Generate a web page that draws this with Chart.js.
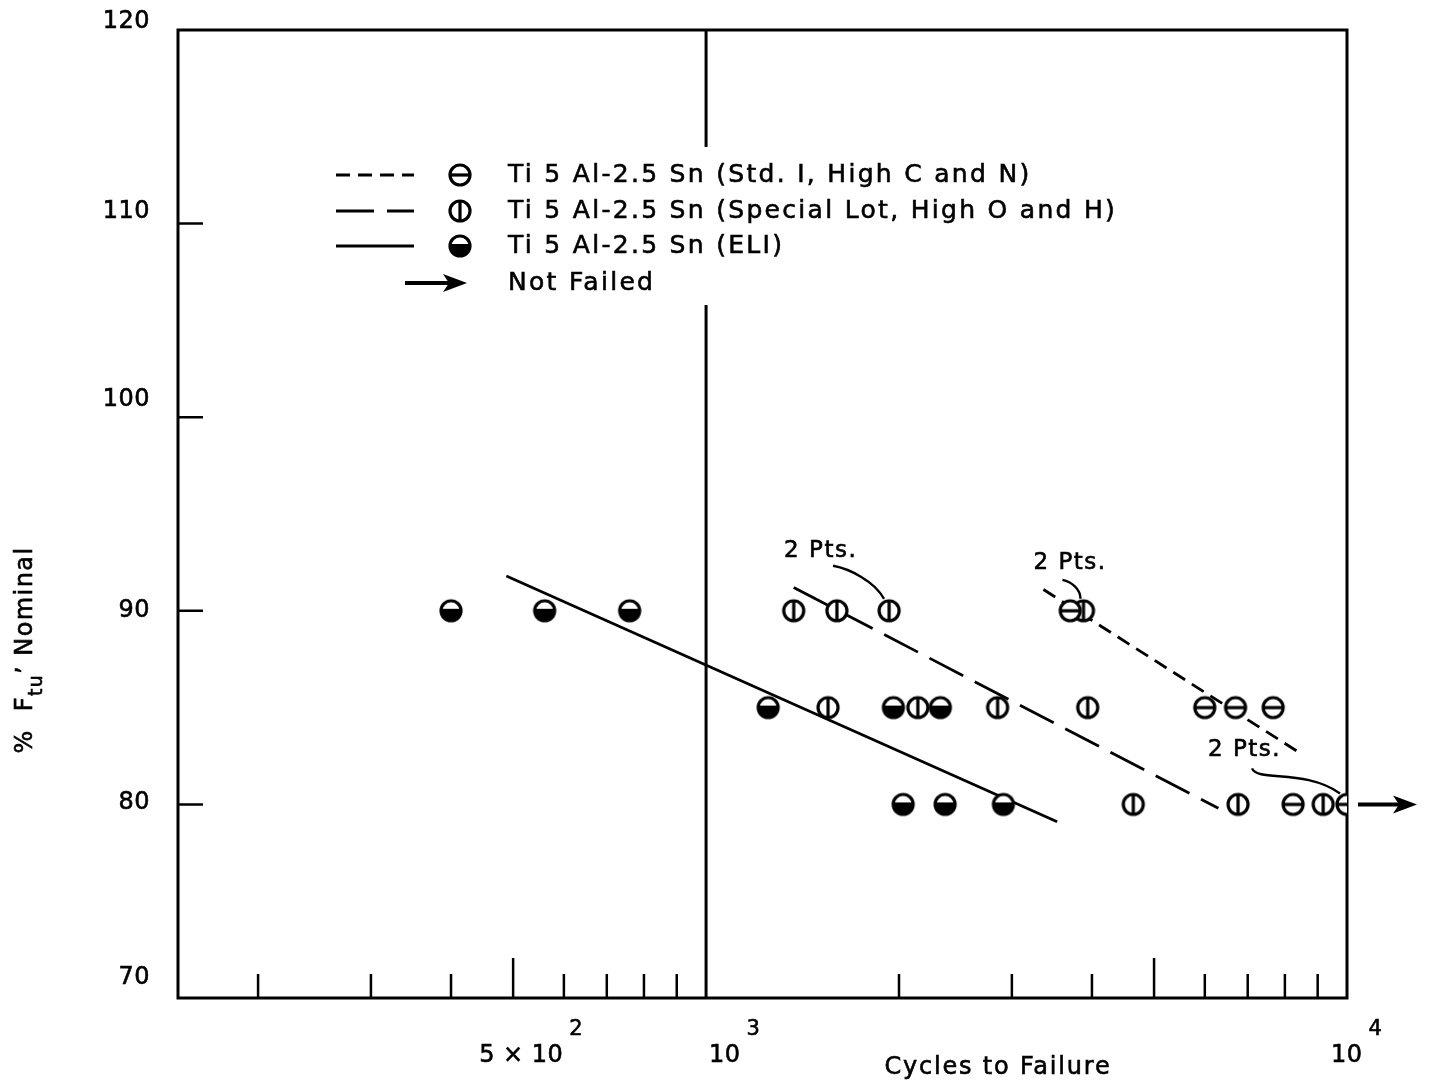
<!DOCTYPE html>
<html>
<head>
<meta charset="utf-8">
<title>Ti 5Al-2.5Sn low-cycle fatigue</title>
<script src="https://cdn.jsdelivr.net/npm/chart.js@4.4.1/dist/chart.umd.min.js"></script>
<style>
  html, body { margin: 0; padding: 0; background: #fff; }
  canvas { display: block; }
</style>
</head>
<body>
<canvas id="fatigueChart" width="1432" height="1088"></canvas>
<script>
// Test points: cycles to failure and % Ftu (nominal) for each lot
const stdCycles = [3700, 6000, 6700, 7670, 8240, 10000];
const stdStress = [90, 85, 85, 85, 80, 80];

const specialCycles = [1370, 1600, 1930, 3880, 1550, 2140, 2850, 3940, 4640, 6760, 9180];
const specialStress = [90, 90, 90, 90, 85, 85, 85, 85, 80, 80, 80];

const eliCycles = [400, 560, 760, 1250, 1960, 2320, 2030, 2360, 2910];
const eliStress = [90, 90, 90, 85, 85, 85, 80, 80, 80];

// Faired curves (end points)
const stdFitCycles = [3360, 8450];
const stdFitStress = [91.1, 82.65];
const specialFitCycles = [1370, 6300];
const specialFitStress = [91.2, 79.8];
const eliFitCycles = [488, 3530];
const eliFitStress = [91.8, 79.1];

// Specimens that did not fail
const runoutCycles = [10000];
const runoutStress = [80];

const seriesNames = [
  'Ti 5 Al-2.5 Sn (Std. I, High C and N)',
  'Ti 5 Al-2.5 Sn (Special Lot, High O and H)',
  'Ti 5 Al-2.5 Sn (ELI)',
  'Not Failed'
];

// Axis ticks and labels
const yTicks = [70, 80, 90, 100, 110, 120];
const xMinorTicks = [200, 300, 400, 600, 700, 800, 900, 2000, 3000, 4000, 6000, 7000, 8000, 9000];
const xMajorTicks = [500, 5000];
const xLabelValues = [500, 1000, 10000];
const xLabelBase = ['5 \u00d7 10', '10', '10'];
const xLabelExp = ['2', '3', '4'];

// "2 Pts." notes and the point each one marks
const noteCycles = [1930, 3880, 10000];
const noteStress = [90, 90, 80];
const noteText = ['2 Pts.', '2 Pts.', '2 Pts.'];

// ---- layout / style ----
const FONT = '"DejaVu Sans", sans-serif';
const INK = '#000';
const SHORT_DASH = [14, 8];
const LONG_DASH = [38, 13];
const MARK_R = 10;

// pixel offsets from the marked point: text left/middle, then leader bezier
const noteLayout = [
  { text: [-105, -60], path: [[-56, -45], [-40, -42], [-15, -30], [-5, -12]] },
  { text: [-50, -48], path: [[-21, -31], [-12, -29], [-3, -22], [-3, -12]] },
  { text: [-139, -54], path: [[-95, -36], [-89, -22], [-42, -36], [-7, -11]] }
];
const xLabelShift = [-34, 3, -16];
const yLabelShift = [-20, -2, 0, -17, -12, -8];
const legendRows = [175, 211, 246, 283];

function makeMarker(kind) {
  const r = MARK_R;
  const s = r * 2 + 6;
  const c = document.createElement('canvas');
  c.width = c.height = s;
  const g = c.getContext('2d');
  const m = s / 2;
  g.lineWidth = 3.2;
  g.strokeStyle = INK;
  g.fillStyle = '#fff';
  g.beginPath(); g.arc(m, m, r, 0, Math.PI * 2); g.fill();
  if (kind === 'half') {
    g.fillStyle = INK;
    g.beginPath(); g.arc(m, m - 1, r, -0.1, Math.PI + 0.1); g.closePath(); g.fill();
  }
  g.beginPath(); g.arc(m, m, r, 0, Math.PI * 2); g.stroke();
  if (kind === 'h') { g.beginPath(); g.moveTo(m - r, m); g.lineTo(m + r, m); g.stroke(); }
  if (kind === 'v') { g.beginPath(); g.moveTo(m, m - r); g.lineTo(m, m + r); g.stroke(); }
  return c;
}
const markers = { h: makeMarker('h'), v: makeMarker('v'), half: makeMarker('half') };

const pts = (xs, ys) => xs.map((x, i) => ({ x: x, y: ys[i] }));

// filled text with a hairline stroke so it reads a little heavier
function ink(ctx, t, x, y) {
  ctx.fillText(t, x, y);
  ctx.strokeText(t, x, y);
}

function arrow(ctx, x0, x1, y) {
  ctx.save();
  ctx.strokeStyle = INK; ctx.fillStyle = INK; ctx.lineWidth = 4;
  ctx.beginPath(); ctx.moveTo(x0, y); ctx.lineTo(x1 - 16, y); ctx.stroke();
  ctx.beginPath();
  ctx.moveTo(x1, y); ctx.lineTo(x1 - 24, y - 9); ctx.lineTo(x1 - 18, y); ctx.lineTo(x1 - 24, y + 9);
  ctx.closePath(); ctx.fill();
  ctx.restore();
}

const decorations = {
  id: 'decorations',
  beforeDatasetsDraw(chart) {
    const { ctx, chartArea: a, scales: { x, y } } = chart;
    ctx.save();
    ctx.strokeStyle = INK;
    ctx.lineWidth = 3;
    ctx.strokeRect(a.left, a.top, a.right - a.left, a.bottom - a.top);

    // 10^3 line, broken where the key sits
    const x3 = x.getPixelForValue(1000);
    const gapTop = legendRows[0] - 28, gapBottom = legendRows[3] + 22;
    ctx.beginPath();
    ctx.moveTo(x3, a.top); ctx.lineTo(x3, gapTop);
    ctx.moveTo(x3, gapBottom); ctx.lineTo(x3, a.bottom);
    ctx.stroke();

    // inward ticks
    ctx.lineWidth = 2.5;
    ctx.beginPath();
    xMinorTicks.forEach(v => { const p = x.getPixelForValue(v); ctx.moveTo(p, a.bottom); ctx.lineTo(p, a.bottom - 24); });
    xMajorTicks.forEach(v => { const p = x.getPixelForValue(v); ctx.moveTo(p, a.bottom); ctx.lineTo(p, a.bottom - 40); });
    yTicks.slice(1, -1).forEach(v => { const p = y.getPixelForValue(v); ctx.moveTo(a.left, p); ctx.lineTo(a.left + 25, p); });
    ctx.stroke();

    // key
    ctx.lineWidth = 2.8;
    const styles = [SHORT_DASH, LONG_DASH, []];
    const keys = [markers.h, markers.v, markers.half];
    for (let i = 0; i < 3; i++) {
      const ry = legendRows[i];
      ctx.setLineDash(styles[i]);
      ctx.beginPath(); ctx.moveTo(336, ry); ctx.lineTo(414, ry); ctx.stroke();
      ctx.setLineDash([]);
      ctx.drawImage(keys[i], 460 - keys[i].width / 2, ry - keys[i].height / 2);
    }
    arrow(ctx, 405, 467, legendRows[3]);
    ctx.fillStyle = INK;
    ctx.lineWidth = 0.6;
    ctx.font = '25px ' + FONT;
    ctx.textBaseline = 'middle';
    ctx.letterSpacing = '2.3px';
    seriesNames.forEach((t, i) => ink(ctx, t, 508, legendRows[i]));
    ctx.restore();
  },
  afterDatasetsDraw(chart) {
    const { ctx, chartArea: a, scales: { x, y } } = chart;
    ctx.save();
    ctx.fillStyle = INK;
    ctx.strokeStyle = INK;

    // run-out arrows
    runoutCycles.forEach((v, i) => {
      const px = x.getPixelForValue(v), py = y.getPixelForValue(runoutStress[i]);
      arrow(ctx, px + MARK_R + 1, px + 70, py);
    });

    // "2 Pts." notes with leaders
    ctx.font = '23px ' + FONT;
    ctx.letterSpacing = '1.5px';
    ctx.textBaseline = 'middle';
    noteCycles.forEach((v, i) => {
      const px = x.getPixelForValue(v), py = y.getPixelForValue(noteStress[i]);
      const L = noteLayout[i];
      ctx.lineWidth = 0.6;
      ink(ctx, noteText[i], px + L.text[0], py + L.text[1]);
      const p = L.path;
      ctx.lineWidth = 2.4;
      ctx.beginPath();
      ctx.moveTo(px + p[0][0], py + p[0][1]);
      ctx.bezierCurveTo(px + p[1][0], py + p[1][1], px + p[2][0], py + p[2][1], px + p[3][0], py + p[3][1]);
      ctx.stroke();
    });

    ctx.lineWidth = 0.6;
    ctx.letterSpacing = '0.5px';

    // y tick labels
    ctx.font = '24px ' + FONT;
    ctx.textAlign = 'right';
    yTicks.forEach((v, i) => ink(ctx, String(v), a.left - 28, y.getPixelForValue(v) + yLabelShift[i]));

    // x tick labels with exponents
    ctx.textAlign = 'left';
    xLabelValues.forEach((v, i) => {
      const px = x.getPixelForValue(v) + xLabelShift[i];
      ctx.font = '24px ' + FONT;
      ink(ctx, xLabelBase[i], px, a.bottom + 58);
      const w = ctx.measureText(xLabelBase[i]).width;
      ctx.font = '21px ' + FONT;
      ink(ctx, xLabelExp[i], px + w + 6, a.bottom + 32);
    });

    // axis titles
    ctx.font = '24px ' + FONT;
    ctx.letterSpacing = '1.8px';
    ctx.textAlign = 'center';
    ink(ctx, 'Cycles to Failure', 998, a.bottom + 70);

    ctx.save();
    ctx.translate(24, 650);
    ctx.rotate(-Math.PI / 2);
    ctx.textAlign = 'left';
    ctx.textBaseline = 'alphabetic';
    ctx.letterSpacing = '1.4px';
    const parts = [
      { t: '%  F', size: 24, dy: 8 },
      { t: 'tu', size: 19, dy: 18 },
      { t: ',', size: 24, dy: -6 },
      { t: ' Nominal', size: 24, dy: 8 }
    ];
    let total = 0;
    parts.forEach(p => { ctx.font = p.size + 'px ' + FONT; p.w = ctx.measureText(p.t).width; total += p.w; });
    let cx = -total / 2;
    parts.forEach(p => { ctx.font = p.size + 'px ' + FONT; ink(ctx, p.t, cx, p.dy); cx += p.w; });
    ctx.restore();

    ctx.restore();
  }
};

new Chart(document.getElementById('fatigueChart'), {
  type: 'scatter',
  data: {
    datasets: [
      { label: seriesNames[0], data: pts(stdCycles, stdStress), pointStyle: markers.h, order: 0 },
      { label: seriesNames[1], data: pts(specialCycles, specialStress), pointStyle: markers.v, order: 0 },
      { label: seriesNames[2], data: pts(eliCycles, eliStress), pointStyle: markers.half, order: 0 },
      { data: pts(stdFitCycles, stdFitStress), showLine: true, pointRadius: 0, borderColor: INK, borderWidth: 2.8, borderDash: SHORT_DASH, order: 1 },
      { data: pts(specialFitCycles, specialFitStress), showLine: true, pointRadius: 0, borderColor: INK, borderWidth: 2.8, borderDash: LONG_DASH, order: 1 },
      { data: pts(eliFitCycles, eliFitStress), showLine: true, pointRadius: 0, borderColor: INK, borderWidth: 2.8, order: 1 }
    ]
  },
  options: {
    responsive: false,
    animation: false,
    devicePixelRatio: 1,
    layout: { padding: { top: 30, right: 85, left: 0, bottom: 0 } },
    plugins: { legend: { display: false }, tooltip: { enabled: false } },
    scales: {
      x: {
        type: 'logarithmic',
        min: 150,
        max: 10000,
        grid: { display: false, drawTicks: false },
        border: { display: false },
        ticks: { display: false },
        afterFit: s => { s.height = 90; }
      },
      y: {
        min: 70,
        max: 120,
        grid: { display: false, drawTicks: false },
        border: { display: false },
        afterBuildTicks: s => { s.ticks = yTicks.map(v => ({ value: v })); },
        ticks: { display: false },
        afterFit: s => { s.width = 178; s.paddingTop = 0; s.paddingBottom = 0; }
      }
    }
  },
  plugins: [decorations]
});
</script>
</body>
</html>
